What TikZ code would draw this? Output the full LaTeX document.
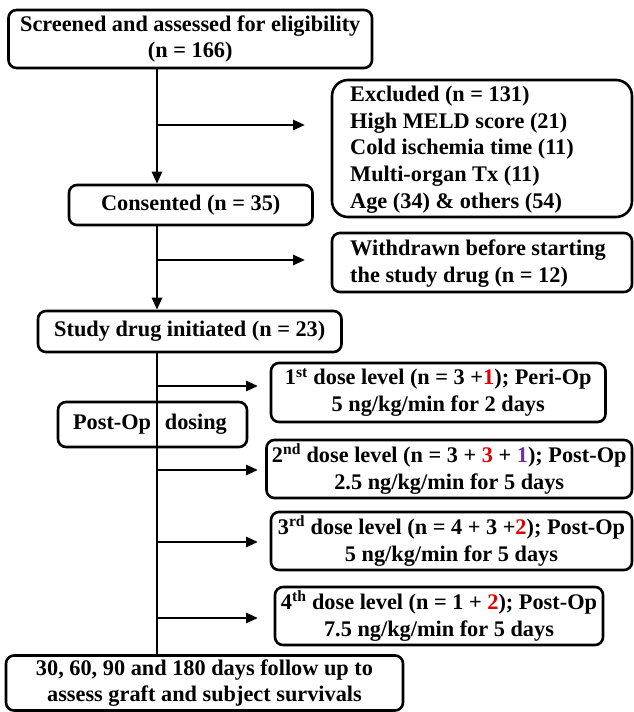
\documentclass[tikz,border=0pt]{standalone}
\usepackage{fontspec}
\setmainfont{Liberation Serif}
\usetikzlibrary{arrows.meta,calc}
\definecolor{rd}{RGB}{225,0,0}
\definecolor{pu}{RGB}{112,48,160}
\begin{document}
\begin{tikzpicture}[x=1pt,y=-1pt,
  font=\fontsize{22.3}{26.7}\selectfont\bfseries,
  box/.style={draw,line width=2.6pt,rounded corners=8pt,inner sep=0pt,align=center},
  conn/.style={line width=2.6pt},
  arr/.style={line width=2.6pt,-{Triangle[length=12pt,width=10pt]}}]
\useasboundingbox (0,0) rectangle (633,712);
\node[box,minimum width=363.5,minimum height=58] (scr) at (190.25,39) {Screened and assessed for eligibility\\(n = 166)};
\node[box,rounded corners=16pt,minimum width=300,minimum height=137] (exc) at (482,148.5) {};
\node[anchor=west,align=left,inner sep=0pt] (exct) at (350,149.5) {Excluded (n = 131)\\High MELD score (21)\\Cold ischemia time (11)\\Multi-organ Tx (11)\\Age (34) \& others (54)};
\node[box,minimum width=243.5,minimum height=40] (con) at (190.75,205) {Consented (n = 35)};
\node[box,minimum width=300,minimum height=59] (wd) at (482,262.5) {};
\node[anchor=west,align=left,inner sep=0pt] (wdt) at (350,263.5) {Withdrawn before starting\\the study drug (n = 12)};
\node[box,minimum width=303.5,minimum height=41] (sd) at (189.75,331.5) {Study drug initiated (n = 23)};
\node[box,minimum width=334.5,minimum height=59] (d1) at (438.25,392.5) {1\textsuperscript{st} dose level (n = 3 +{\color{rd}1}); Peri-Op\\5 ng/kg/min for 2 days};
\node[box,minimum width=189,minimum height=45] (po) at (152.5,424.5) {};
\node[inner sep=0pt] (pot) at (150,424.5) {Post-Op\hspace{0.62em}dosing};
\node[box,minimum width=365.5,minimum height=58] (d2) at (449.25,469) {2\textsuperscript{nd} dose level (n = 3 + {\color{rd}3} + {\color{pu}1}); Post-Op\\2.5 ng/kg/min for 5 days};
\node[box,minimum width=361,minimum height=58] (d3) at (451.5,541) {3\textsuperscript{rd} dose level (n = 4 + 3 +{\color{rd}2}); Post-Op\\5 ng/kg/min for 5 days};
\node[box,minimum width=328,minimum height=58] (d4) at (439,616) {4\textsuperscript{th} dose level (n = 1 + {\color{rd}2}); Post-Op\\7.5 ng/kg/min for 5 days};
\node[box,minimum width=397,minimum height=55] (fu) at (204.5,683) {30, 60, 90 and 180 days follow up to\\assess graft and subject survivals};
% main line
\coordinate (mx) at (157,0);
\coordinate (b1) at (157,125);
\coordinate (e1) at (305,125);
\coordinate (b2) at (157,260);
\coordinate (e2) at (305,260);
\coordinate (b3) at (157,386);
\coordinate (e3) at (258,386);
\coordinate (b4) at (157,470);
\coordinate (e4) at (258,470);
\coordinate (b5) at (157,542);
\coordinate (e5) at (258,542);
\coordinate (b6) at (157,618);
\coordinate (e6) at (258,618);
\draw[arr] (scr.south -| mx) -- (con.north -| mx);
\draw[arr] (con.south -| mx) -- (sd.north -| mx);
\draw[conn] (sd.south -| mx) -- (fu.north -| mx);
\draw[arr] (b1) -- (e1);
\draw[arr] (b2) -- (e2);
\draw[arr] (b3) -- (e3);
\draw[arr] (b4) -- (e4);
\draw[arr] (b5) -- (e5);
\draw[arr] (b6) -- (e6);
\end{tikzpicture}
\end{document}
